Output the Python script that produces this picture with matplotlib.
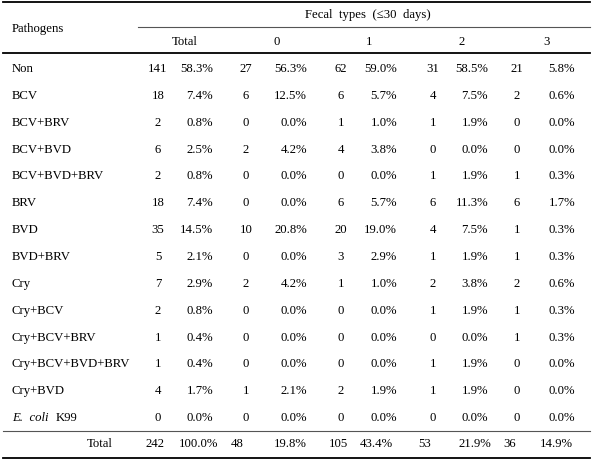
import matplotlib
matplotlib.use("Agg")
import matplotlib.pyplot as plt

plt.rcParams['font.family'] = ['Liberation Serif', 'DejaVu Serif']

# table data
pathogens = ["Non", "BCV", "BCV+BRV", "BCV+BVD", "BCV+BVD+BRV", "BRV", "BVD",
             "BVD+BRV", "Cry", "Cry+BCV", "Cry+BCV+BRV", "Cry+BCV+BVD+BRV",
             "Cry+BVD", "E. coli K99"]
col_labels = ["Total", "0", "1", "2", "3"]
total_n = [141, 18, 2, 6, 2, 18, 35, 5, 7, 2, 1, 1, 4, 0]
total_pct = [58.3, 7.4, 0.8, 2.5, 0.8, 7.4, 14.5, 2.1, 2.9, 0.8, 0.4, 0.4, 1.7, 0.0]
type0_n = [27, 6, 0, 2, 0, 0, 10, 0, 2, 0, 0, 0, 1, 0]
type0_pct = [56.3, 12.5, 0.0, 4.2, 0.0, 0.0, 20.8, 0.0, 4.2, 0.0, 0.0, 0.0, 2.1, 0.0]
type1_n = [62, 6, 1, 4, 0, 6, 20, 3, 1, 0, 0, 0, 2, 0]
type1_pct = [59.0, 5.7, 1.0, 3.8, 0.0, 5.7, 19.0, 2.9, 1.0, 0.0, 0.0, 0.0, 1.9, 0.0]
type2_n = [31, 4, 1, 0, 1, 6, 4, 1, 2, 1, 0, 1, 1, 0]
type2_pct = [58.5, 7.5, 1.9, 0.0, 1.9, 11.3, 7.5, 1.9, 3.8, 1.9, 0.0, 1.9, 1.9, 0.0]
type3_n = [21, 2, 0, 0, 1, 6, 1, 1, 2, 1, 1, 0, 0, 0]
type3_pct = [5.8, 0.6, 0.0, 0.0, 0.3, 1.7, 0.3, 0.3, 0.6, 0.3, 0.3, 0.0, 0.0, 0.0]
sum_n = [242, 48, 105, 53, 36]
sum_pct = [100.0, 19.8, 43.4, 21.9, 14.9]

counts = [total_n, type0_n, type1_n, type2_n, type3_n]
pcts = [total_pct, type0_pct, type1_pct, type2_pct, type3_pct]

fig = plt.figure(figsize=(5.99, 4.65), dpi=100)
ax = fig.add_axes([0, 0, 1, 1])
ax.set_xlim(0, 599)
ax.set_ylim(465, 0)
ax.axis('off')

fs = 9.2
n_x = [158, 246, 341, 433, 517]      # count column centres
p_x = [213, 307, 397, 488, 575]      # percent column right edges
head_x = [185, 277, 369, 462, 547]
sum_n_x = [155, 237, 338, 425, 510]
sum_p_x = [218, 307, 393, 491, 573]

row0 = 69
step = 26.85

# rules
ax.plot([3, 590], [2, 2], color='black', lw=1.3)
ax.plot([138, 590], [27, 27], color='#555555', lw=0.8)
ax.plot([3, 590], [53.5, 53.5], color='black', lw=1.3)
ax.plot([3, 590], [431, 431], color='#555555', lw=0.8)
ax.plot([3, 590], [458, 458], color='black', lw=1.3)

# header
ax.text(12, 29, "Pathogens", fontsize=fs, va='center', ha='left')
ax.text(368, 15, "Fecal  types  (\u226430  days)", fontsize=fs, va='center', ha='center')
for x, lab in zip(head_x, col_labels):
    ax.text(x, 42, lab, fontsize=fs, va='center', ha='center')

# body
for i, name in enumerate(pathogens):
    y = row0 + i * step
    if name.startswith("E. coli"):
        ax.text(12, y, "E.  coli", fontsize=fs, va='center', ha='left', style='italic')
        ax.text(56, y, name.split()[-1], fontsize=fs, va='center', ha='left')
    else:
        ax.text(12, y, name, fontsize=fs, va='center', ha='left')
    for j in range(5):
        ax.text(n_x[j], y, str(counts[j][i]), fontsize=fs, va='center', ha='center')
        ax.text(p_x[j], y, "%.1f%%" % pcts[j][i], fontsize=fs, va='center', ha='right')

# total row
ax.text(100, 444, "Total", fontsize=fs, va='center', ha='center')
for j in range(5):
    ax.text(sum_n_x[j], 444, str(sum_n[j]), fontsize=fs, va='center', ha='center')
    ax.text(sum_p_x[j], 444, "%.1f%%" % sum_pct[j], fontsize=fs, va='center', ha='right')

fig.savefig("out.png", dpi=100)
